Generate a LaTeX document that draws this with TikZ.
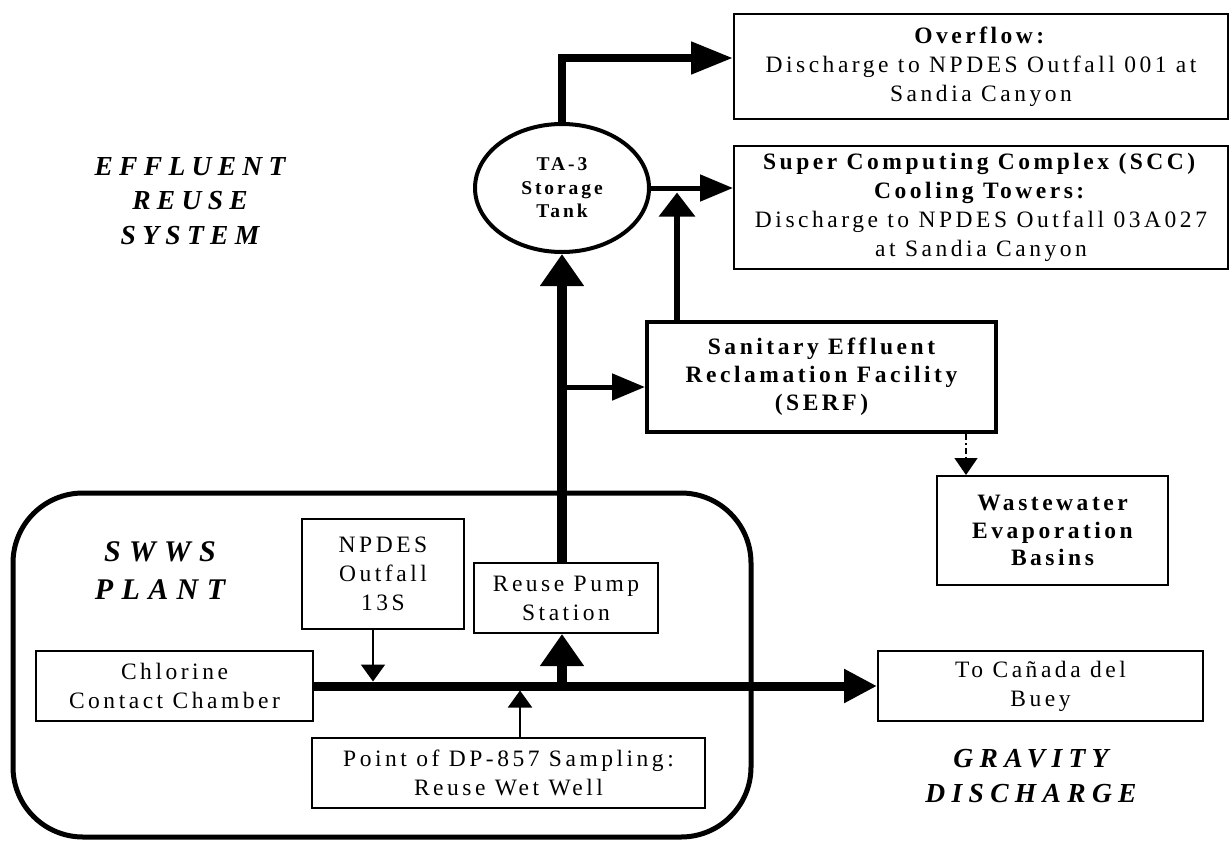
\documentclass[tikz,border=0pt]{standalone}
\usepackage{fontspec}
\setmainfont{Liberation Serif}
\newfontfamily\boxfont[LetterSpace=15]{Liberation Serif}
\newfontfamily\titlefont[LetterSpace=23]{Liberation Serif}
\newfontfamily\plantfont[LetterSpace=28]{Liberation Serif}
\usetikzlibrary{arrows.meta,shapes.geometric}

\tikzset{
  box/.style={draw, rectangle, line width=2pt, inner sep=0pt, align=center,
    font=\boxfont\fontsize{23.5}{29}\selectfont},
  heavybox/.style={box, line width=4pt, font=\boxfont\bfseries\fontsize{23.5}{28}\selectfont},
  tankshape/.style={draw, ellipse, line width=4pt, inner sep=0pt, align=center,
    minimum width=174pt, minimum height=128pt,
    font=\boxfont\bfseries\fontsize{19.5}{23.5}\selectfont},
  areatitle/.style={align=center, font=\titlefont\bfseries\itshape\fontsize{27.5}{34.5}\selectfont},
  feed/.style={line width=2pt, -{Triangle[length=17pt,width=24pt]}},
  dashfeed/.style={line width=1.5pt, dash pattern=on 6pt off 3pt on 2pt off 3pt,
    -{Triangle[length=17pt,width=23pt]}},
  mainpipe/.style={line width=9pt, -{Triangle[length=33pt,width=32pt]}},
  risepipe/.style={line width=10pt, -{Triangle[length=32pt,width=42pt]}},
  overpipe/.style={line width=8pt, -{Triangle[length=42pt,width=31pt]}},
  branchpipe/.style={line width=5pt, -{Triangle[length=33pt,width=26pt]}},
}

\begin{document}
\begin{tikzpicture}[x=1pt, y=-1pt]

	\useasboundingbox (0,0) rectangle (1230,840);

	%%% SWWS plant frame
	\node[draw, line width=5pt, rounded corners=70pt, minimum width=738pt,
		minimum height=344pt] (plantframe) at (382,665) {};
	\node[areatitle, font=\plantfont\bfseries\itshape\fontsize{30}{38}\selectfont]
		(plantname) at (160,571) {SWWS\\PLANT};

	%%% Plant units
	\node[box, minimum width=277pt, minimum height=70pt] (chlorine) at (174.5,686)
		{Chlorine\\Contact Chamber};
	\node[box, minimum width=162pt, minimum height=110pt] (npdes) at (383,574)
		{NPDES\\Outfall\\13S};
	\node[box, minimum width=184pt, minimum height=70pt] (pump) at (566,598)
		{Reuse Pump\\Station};
	\node[box, minimum width=393pt, minimum height=70pt] (point) at (508.5,773)
		{Point of DP-857 Sampling:\\Reuse Wet Well};

	%%% Reuse system
	\node[tankshape] (tank) at (562,188) {TA-3\\Storage\\Tank};
	\node[heavybox, minimum width=349pt, minimum height=110pt] (serf) at (821.5,377)
		{Sanitary Effluent\\Reclamation Facility\\(SERF)};
	\node[box, minimum width=494pt, minimum height=105pt] (overflow) at (981,66.5)
		{\textbf{Overflow:}\\Discharge to NPDES Outfall 001 at\\Sandia Canyon};
	\node[box, minimum width=494pt, minimum height=123pt] (scc) at (981,207.5)
		{\textbf{Super Computing Complex (SCC)}\\\textbf{Cooling Towers:}\\
		Discharge to NPDES Outfall 03A027\\at Sandia Canyon};
	\node[box, minimum width=231pt, minimum height=109pt,
		font=\boxfont\bfseries\fontsize{23.5}{27.5}\selectfont] (waste) at (1052.5,530.5)
		{Wastewater\\Evaporation\\Basins};
	\node[box, minimum width=325pt, minimum height=70pt] (canada) at (1040.5,686)
		{To Cañada del\\Buey};

	%%% Titles
	\node[areatitle] (reusename) at (190,201) {EFFLUENT\\REUSE\\SYSTEM};
	\node[areatitle] (gravityname) at (1031,776) {GRAVITY\\DISCHARGE};

	%%% Junctions
	\coordinate (jnpdes) at (373,681.5);
	\coordinate (jpoint) at (520,690.5);
	\coordinate (jpump) at (562,686);
	\coordinate (jserf) at (562,387);
	\coordinate (jscc) at (677,192.5);
	\coordinate (bend) at (562,58);
	\coordinate (jwaste) at (966,454);

	%%% Gravity line
	\draw[mainpipe] (chlorine.east) -- (chlorine.east -| canada.west);
	\draw[feed] (npdes.south -| jnpdes) -- (jnpdes);
	\draw[feed] (point.north -| jpoint) -- (jpoint);

	%%% Reuse line
	\draw[risepipe] (jpump) -- (pump.south -| jpump);
	\draw[risepipe] (pump.north -| jpump) -- (tank.south);
	\draw[branchpipe] (jserf) -- (serf.west |- jserf);
	\draw[line width=6pt, -{Triangle[length=24pt,width=35pt]}] (serf.north -| jscc) -- (jscc);
	\draw[branchpipe] (tank.east) -- (tank.east -| scc.west);
	\draw[overpipe] (tank.north) -- (bend) -- (bend -| overflow.west);
	\draw[dashfeed] (serf.south -| jwaste) -- (waste.north -| jwaste);

\end{tikzpicture}
\end{document}
